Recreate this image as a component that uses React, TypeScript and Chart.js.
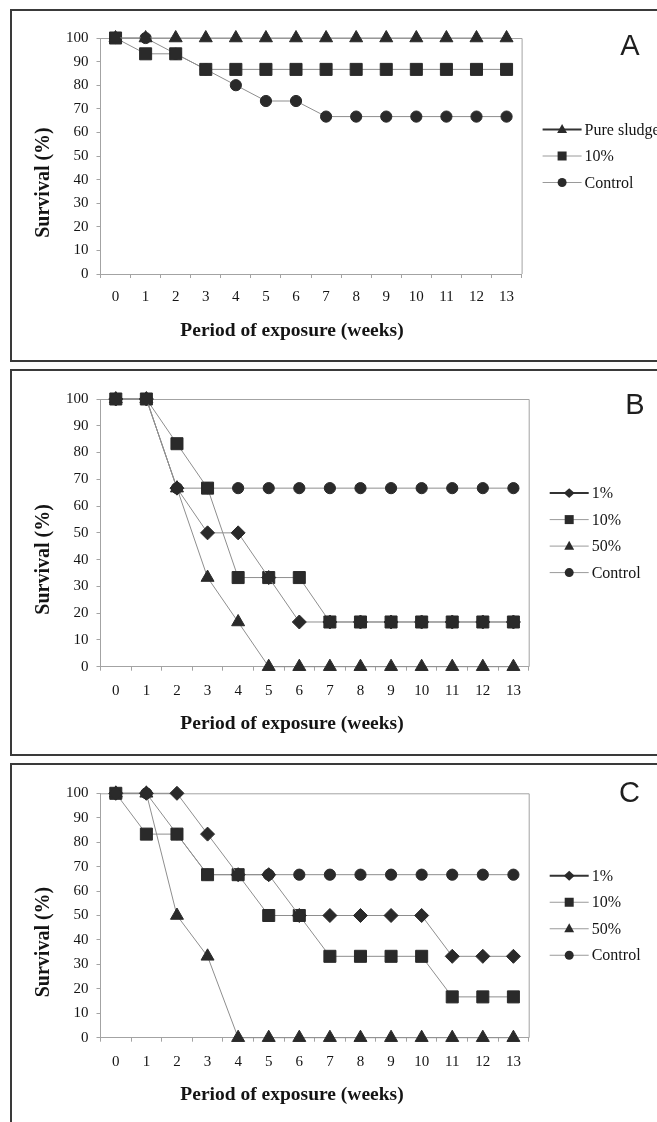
import React, { useEffect, useRef } from 'react';
import { Chart, registerables } from 'chart.js';

Chart.register(...registerables);

// ---------- data ----------
const weeks = ['0', '1', '2', '3', '4', '5', '6', '7', '8', '9', '10', '11', '12', '13'];

const panelAPureSludge = [100, 100, 100, 100, 100, 100, 100, 100, 100, 100, 100, 100, 100, 100];
const panelATenPercent = [100, 93.3, 93.3, 86.7, 86.7, 86.7, 86.7, 86.7, 86.7, 86.7, 86.7, 86.7, 86.7, 86.7];
const panelAControl = [100, 100, 93.3, 86.7, 80, 73.3, 73.3, 66.7, 66.7, 66.7, 66.7, 66.7, 66.7, 66.7];

const panelBOnePercent = [100, 100, 66.7, 50, 50, 33.3, 16.7, 16.7, 16.7, 16.7, 16.7, 16.7, 16.7, 16.7];
const panelBTenPercent = [100, 100, 83.3, 66.7, 33.3, 33.3, 33.3, 16.7, 16.7, 16.7, 16.7, 16.7, 16.7, 16.7];
const panelBFiftyPercent = [100, 100, 66.7, 33.3, 16.7, 0, 0, 0, 0, 0, 0, 0, 0, 0];
const panelBControl = [100, 100, 66.7, 66.7, 66.7, 66.7, 66.7, 66.7, 66.7, 66.7, 66.7, 66.7, 66.7, 66.7];

const panelCOnePercent = [100, 100, 100, 83.3, 66.7, 66.7, 50, 50, 50, 50, 50, 33.3, 33.3, 33.3];
const panelCTenPercent = [100, 83.3, 83.3, 66.7, 66.7, 50, 50, 33.3, 33.3, 33.3, 33.3, 16.7, 16.7, 16.7];
const panelCFiftyPercent = [100, 100, 50, 33.3, 0, 0, 0, 0, 0, 0, 0, 0, 0, 0];
const panelCControl = [100, 100, 83.3, 66.7, 66.7, 66.7, 66.7, 66.7, 66.7, 66.7, 66.7, 66.7, 66.7, 66.7];

const yTitle = 'Survival (%)';
const xTitle = 'Period of exposure (weeks)';

// ---------- styling ----------
const SERIF = '"Liberation Serif", "Times New Roman", serif';
const SANS = '"Liberation Sans", Arial, sans-serif';
const MARK = '#2a2a2a';
const LINE = '#8e8e8e';
const AXIS = '#a3a3a3';
const TEXT = '#141414';

type Marker = 'triangle' | 'rect' | 'circle' | 'rectRot';
type Series = { label: string; data: number[]; marker: Marker };

const RADIUS: Record<Marker, number> = { triangle: 7.5, rect: 8.5, circle: 5.6, rectRot: 7 };

function drawMarker(ctx: CanvasRenderingContext2D, m: Marker, x: number, y: number, s: number) {
  ctx.beginPath();
  if (m === 'circle') {
    ctx.arc(x, y, s * 0.5, 0, Math.PI * 2);
  } else if (m === 'rect') {
    ctx.rect(x - s / 2, y - s / 2, s, s);
  } else if (m === 'triangle') {
    ctx.moveTo(x, y - s * 0.6);
    ctx.lineTo(x + s * 0.55, y + s * 0.4);
    ctx.lineTo(x - s * 0.55, y + s * 0.4);
    ctx.closePath();
  } else {
    ctx.moveTo(x, y - s * 0.55);
    ctx.lineTo(x + s * 0.6, y);
    ctx.lineTo(x, y + s * 0.55);
    ctx.lineTo(x - s * 0.6, y);
    ctx.closePath();
  }
  ctx.fill();
}

const decorPlugin = {
  id: 'decor',
  beforeDatasetsDraw(chart: any) {
    const { ctx, chartArea: a } = chart;
    ctx.save();
    ctx.strokeStyle = AXIS;
    ctx.lineWidth = 1;
    ctx.beginPath();
    ctx.moveTo(a.left, a.top + 0.5);
    ctx.lineTo(a.right + 0.5, a.top + 0.5);
    ctx.lineTo(a.right + 0.5, a.bottom);
    ctx.stroke();
    ctx.restore();
  },
  afterDraw(chart: any, _args: any, opts: any) {
    const { ctx, chartArea: a } = chart;
    ctx.save();
    // legend
    const ds = chart.data.datasets;
    const n = ds.length;
    const spacing = 26.5;
    const y0 = (a.top + a.bottom) / 2 - ((n - 1) * spacing) / 2;
    const x0 = a.right + 21;
    ds.forEach((d: any, i: number) => {
      const y = y0 + i * spacing;
      ctx.strokeStyle = i === 0 ? '#333333' : '#9a9a9a';
      ctx.lineWidth = i === 0 ? 2 : 1;
      ctx.beginPath();
      ctx.moveTo(x0, y);
      ctx.lineTo(x0 + 39, y);
      ctx.stroke();
      ctx.fillStyle = MARK;
      drawMarker(ctx, d.pointStyle, x0 + 19.5, y, 9);
      ctx.fillStyle = TEXT;
      ctx.font = `16px ${SERIF}`;
      ctx.textAlign = 'left';
      ctx.textBaseline = 'middle';
      ctx.fillText(d.label, x0 + 42, y + 1);
    });
    // axis titles
    ctx.fillStyle = TEXT;
    ctx.font = `bold 19.5px ${SERIF}`;
    ctx.textAlign = 'center';
    ctx.textBaseline = 'middle';
    ctx.fillText(opts.xTitle, opts.xTitleX, a.bottom + 57);
    ctx.save();
    ctx.translate(opts.yTitleX, (a.top + a.bottom) / 2 + 26.5);
    ctx.rotate(-Math.PI / 2);
    ctx.font = `bold 20px ${SERIF}`;
    ctx.fillText(opts.yTitle, 0, 0);
    ctx.restore();
    // panel letter
    ctx.fillStyle = '#1e1e1e';
    ctx.font = `29px ${SANS}`;
    ctx.textAlign = 'center';
    ctx.textBaseline = 'middle';
    ctx.fillText(opts.letter, opts.letterX, opts.letterY);
    ctx.restore();
  },
};

type PanelProps = {
  top: number;
  height: number;
  chartTop: number;
  chartBottom: number;
  chartRight: number;
  series: Series[];
  letter: string;
  letterX: number;
  letterY: number;
  tickPad: number;
};

function Panel(p: PanelProps) {
  const ref = useRef<HTMLCanvasElement>(null);
  useEffect(() => {
    const chartLeft = 100.5;
    const yWidth = 60;
    const chart = new Chart(ref.current as HTMLCanvasElement, {
      type: 'line',
      data: {
        labels: weeks,
        datasets: p.series.map((s) => ({
          label: s.label,
          data: s.data,
          pointStyle: s.marker,
          pointRadius: RADIUS[s.marker],
          pointHoverRadius: RADIUS[s.marker],
          pointBackgroundColor: MARK,
          pointBorderColor: MARK,
          pointBorderWidth: 1,
          borderColor: LINE,
          borderWidth: 1,
          backgroundColor: MARK,
          fill: false,
          tension: 0,
          clip: false as any,
        })),
      },
      options: {
        responsive: false,
        animation: false,
        events: [],
        layout: {
          padding: { left: chartLeft - yWidth, right: 657 - p.chartRight, top: p.chartTop, bottom: 0 },
        },
        plugins: {
          legend: { display: false },
          tooltip: { enabled: false },
          decor: {
            letter: p.letter,
            letterX: p.letterX,
            letterY: p.letterY,
            xTitle,
            yTitle,
            xTitleX: 292,
            yTitleX: 44,
          },
        } as any,
        scales: {
          x: {
            type: 'category',
            offset: true,
            afterFit: (scale: any) => {
              scale.height = p.height - p.chartBottom;
            },
            grid: { offset: true, drawOnChartArea: false, tickLength: 4, color: AXIS },
            border: { color: AXIS, width: 1 },
            ticks: {
              color: TEXT,
              font: { family: SERIF, size: 15 },
              padding: p.tickPad,
              maxRotation: 0,
              autoSkip: false,
            },
          },
          y: {
            min: 0,
            max: 100,
            afterFit: (scale: any) => {
              scale.width = yWidth;
            },
            grid: { drawOnChartArea: false, tickLength: 4, color: AXIS },
            border: { color: AXIS, width: 1 },
            ticks: {
              stepSize: 10,
              color: TEXT,
              font: { family: SERIF, size: 15 },
              padding: 8,
            },
          },
        },
      },
      plugins: [decorPlugin],
    } as any);
    return () => chart.destroy();
  }, []);
  return (
    <canvas
      ref={ref}
      width={657}
      height={p.height}
      style={{ position: 'absolute', left: 0, top: p.top, width: 657, height: p.height }}
    />
  );
}

const frame = (top: number, height: number): React.CSSProperties => ({
  position: 'absolute',
  left: 10,
  top,
  width: 720,
  height,
  boxSizing: 'border-box',
  border: '2px solid #3a3a3a',
});

export default function App() {
  const seriesA: Series[] = [
    { label: 'Pure sludge', data: panelAPureSludge, marker: 'triangle' },
    { label: '10%', data: panelATenPercent, marker: 'rect' },
    { label: 'Control', data: panelAControl, marker: 'circle' },
  ];
  const seriesB: Series[] = [
    { label: '1%', data: panelBOnePercent, marker: 'rectRot' },
    { label: '10%', data: panelBTenPercent, marker: 'rect' },
    { label: '50%', data: panelBFiftyPercent, marker: 'triangle' },
    { label: 'Control', data: panelBControl, marker: 'circle' },
  ];
  const seriesC: Series[] = [
    { label: '1%', data: panelCOnePercent, marker: 'rectRot' },
    { label: '10%', data: panelCTenPercent, marker: 'rect' },
    { label: '50%', data: panelCFiftyPercent, marker: 'triangle' },
    { label: 'Control', data: panelCControl, marker: 'circle' },
  ];
  return (
    <div
      style={{
        position: 'absolute',
        left: 0,
        top: 0,
        width: 657,
        height: 1122,
        overflow: 'hidden',
        background: '#ffffff',
      }}
    >
      <div style={frame(9, 353)} />
      <div style={frame(369, 387)} />
      <div style={frame(763, 400)} />
      <Panel
        top={0}
        height={360}
        chartTop={38}
        chartBottom={274}
        chartRight={521.6}
        series={seriesA}
        letter="A"
        letterX={630}
        letterY={47}
        tickPad={10}
      />
      <Panel
        top={365}
        height={390}
        chartTop={34}
        chartBottom={301.7}
        chartRight={528.7}
        series={seriesB}
        letter="B"
        letterX={635}
        letterY={40.5}
        tickPad={11}
      />
      <Panel
        top={760}
        height={362}
        chartTop={33.3}
        chartBottom={277.7}
        chartRight={528.7}
        series={seriesC}
        letter="C"
        letterX={629.5}
        letterY={34}
        tickPad={11}
      />
    </div>
  );
}
